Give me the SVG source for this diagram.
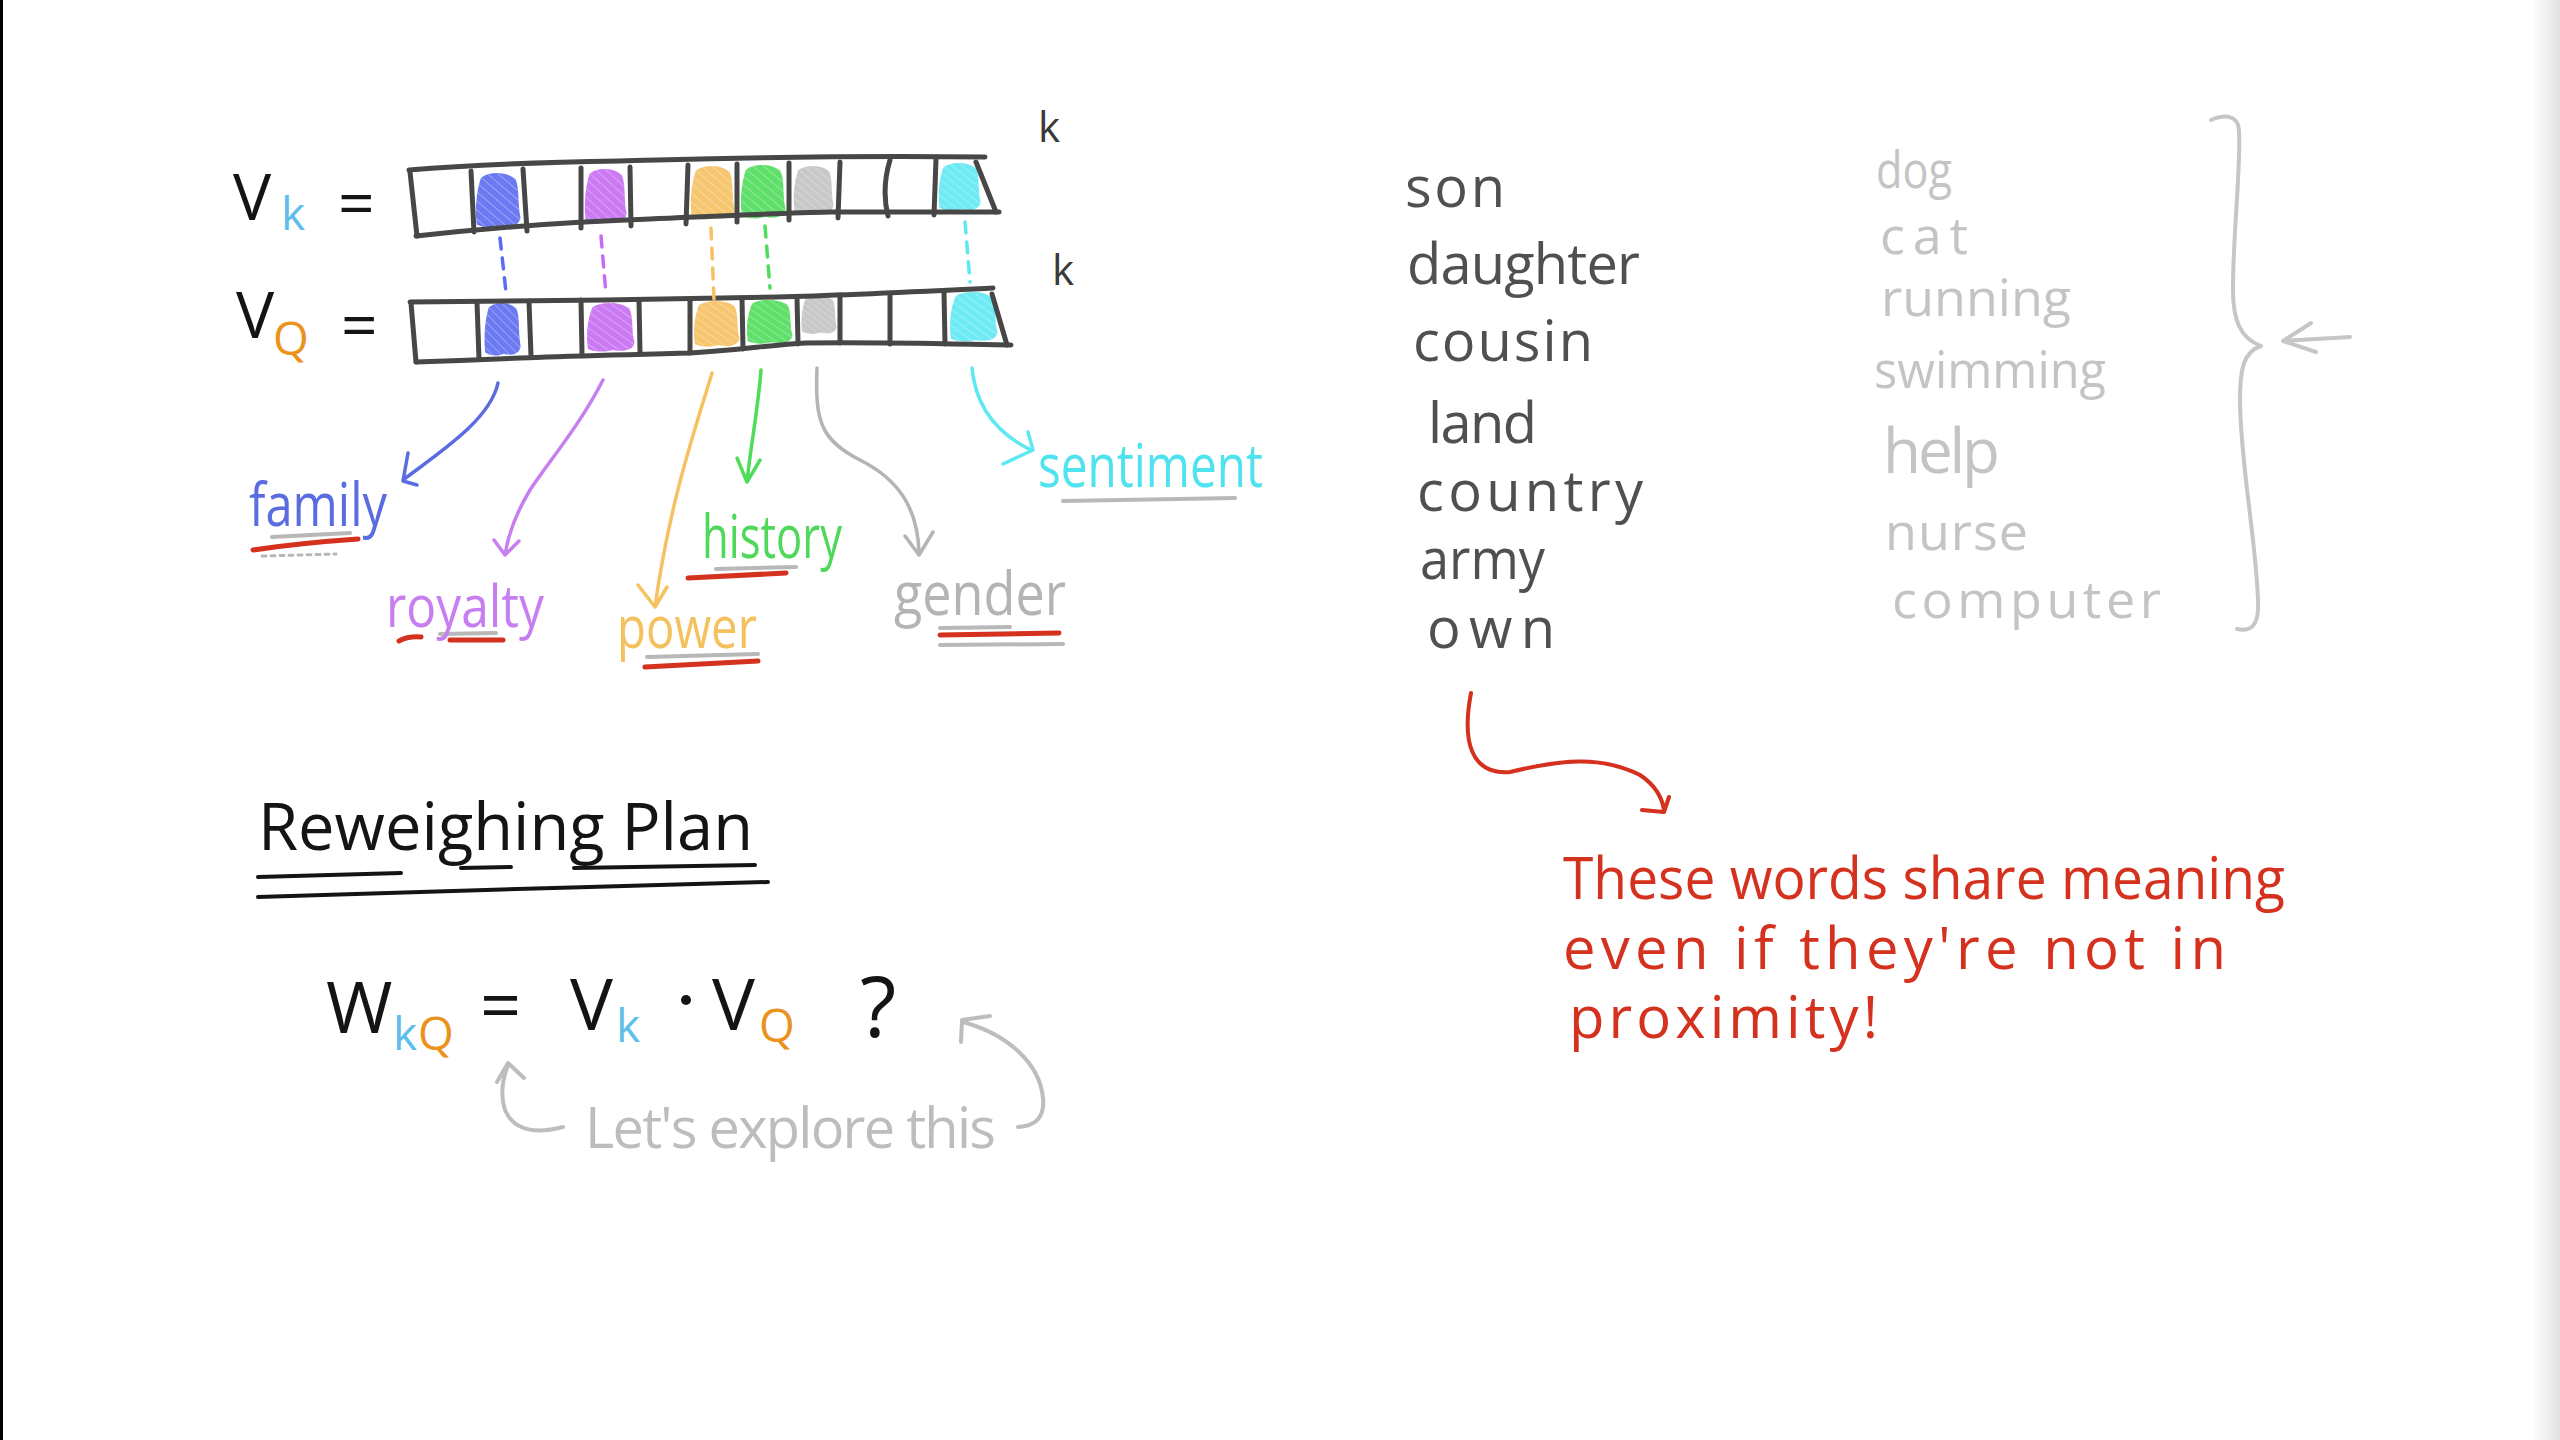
<svg xmlns="http://www.w3.org/2000/svg" xmlns:xlink="http://www.w3.org/1999/xlink" width="2560" height="1440" viewBox="0 0 2560 1440">
<style>
  text { font-family: "Open Sans", "Noto Sans", "DejaVu Sans", sans-serif; }
  .pen { fill: none; stroke-linecap: round; stroke-linejoin: round; }
  .box { fill: none; stroke: #474747; stroke-width: 5; stroke-linecap: round; stroke-linejoin: round; }
  .dash { fill: none; stroke-width: 3.5; stroke-dasharray: 11 9; stroke-linecap: round; }
  .blk { fill: #141414; }
  .mid { fill: #505050; font-size: 56px; }
  .lite { fill: #c4c4c4; font-size: 52px; }
  .red { fill: #d4311f; font-size: 58px; }
  .lbl { font-size: 60px; }
</style>
<defs>
  <path id="blob" d="M15,10 C35,-2 70,0 88,12 C98,30 92,55 99,80 C96,96 75,98 55,94 C40,99 20,98 6,92 C2,70 4,35 15,10 Z"/>
  <pattern id="hatch" width="13" height="13" patternUnits="userSpaceOnUse" patternTransform="rotate(-55)">
    <rect width="13" height="13" fill="none"/>
    <line x1="0" y1="0" x2="0" y2="13" stroke="#ffffff" stroke-opacity="0.4" stroke-width="3"/>
  </pattern>
  <linearGradient id="edge" x1="0" y1="0" x2="1" y2="0">
    <stop offset="0" stop-color="#ffffff"/>
    <stop offset="1" stop-color="#e2e2e2"/>
  </linearGradient>
</defs>

<rect x="0" y="0" width="2560" height="1440" fill="#ffffff"/>
<rect x="0" y="0" width="3" height="1440" fill="#000000"/>
<rect x="2532" y="0" width="28" height="1440" fill="url(#edge)"/>

<g id="vk-label">
  <text x="233" y="220" class="blk" font-size="64">V</text>
  <text x="281" y="230" fill="#5ec0ea" font-size="46">k</text>
  <text x="338" y="226" class="blk" font-size="64">=</text>
</g>
<g id="vq-label">
  <text x="236" y="338" class="blk" font-size="64">V</text>
  <text x="273" y="355" fill="#ea921c" font-size="46">Q</text>
  <text x="341" y="348" class="blk" font-size="64">=</text>
</g>
<g id="k-marks" fill="#3a3a3a">
  <text x="1038" y="142" font-size="42">k</text>
  <text x="1052" y="285" font-size="42">k</text>
</g>

<g id="vk-bar">
  <g opacity="0.9">
    <use href="#blob" transform="translate(474,172) scale(0.47,0.57)" fill="#5b6cf0"/>
    <use href="#blob" transform="translate(583,168) scale(0.44,0.57)" fill="#c66cf2"/>
    <use href="#blob" transform="translate(689,165) scale(0.46,0.56)" fill="#f6c261"/>
    <use href="#blob" transform="translate(739,164) scale(0.47,0.56)" fill="#4fdc5a"/>
    <use href="#blob" transform="translate(792,165) scale(0.42,0.5)" fill="#b4b4b4" opacity="0.8"/>
    <use href="#blob" transform="translate(937,162) scale(0.44,0.5)" fill="#5ee8f2"/>
  </g>
  <g fill="url(#hatch)">
    <use href="#blob" transform="translate(474,172) scale(0.47,0.57)"/>
    <use href="#blob" transform="translate(583,168) scale(0.44,0.57)"/>
    <use href="#blob" transform="translate(689,165) scale(0.46,0.56)"/>
    <use href="#blob" transform="translate(739,164) scale(0.47,0.56)"/>
    <use href="#blob" transform="translate(792,165) scale(0.42,0.5)"/>
    <use href="#blob" transform="translate(937,162) scale(0.44,0.5)"/>
  </g>
  <path class="box" d="M409,170 C480,164 560,162 620,161 C700,159 800,155 985,157"/>
  <path class="box" d="M416,236 C480,229 560,222 650,219 C720,216 780,213 830,212 L999,212"/>
  <path class="box" d="M410,172 L417,236"/>
  <path class="box" d="M976,162 L996,212"/>
  <path class="box" d="M471,171 L474,232 M523,169 L527,231 M581,168 L581,228 M630,167 L631,226 M688,165 L686,224 M737,164 L737,222 M789,163 L789,220 M840,162 L838,218 M890,160 C884,180 884,200 888,216 M936,159 L934,215"/>
</g>

<g id="vq-bar">
  <g opacity="0.9">
    <use href="#blob" transform="translate(483,302) scale(0.38,0.55)" fill="#5b6cf0"/>
    <use href="#blob" transform="translate(585,302) scale(0.5,0.51)" fill="#c66cf2"/>
    <use href="#blob" transform="translate(692,300) scale(0.48,0.48)" fill="#f6c261"/>
    <use href="#blob" transform="translate(745,299) scale(0.48,0.46)" fill="#4fdc5a"/>
    <use href="#blob" transform="translate(800,295) scale(0.37,0.4)" fill="#b4b4b4" opacity="0.8"/>
    <use href="#blob" transform="translate(948,291) scale(0.5,0.52)" fill="#5ee8f2"/>
  </g>
  <g fill="url(#hatch)">
    <use href="#blob" transform="translate(483,302) scale(0.38,0.55)"/>
    <use href="#blob" transform="translate(585,302) scale(0.5,0.51)"/>
    <use href="#blob" transform="translate(692,300) scale(0.48,0.48)"/>
    <use href="#blob" transform="translate(745,299) scale(0.48,0.46)"/>
    <use href="#blob" transform="translate(800,295) scale(0.37,0.4)"/>
    <use href="#blob" transform="translate(948,291) scale(0.5,0.52)"/>
  </g>
  <path class="box" d="M410,302 C500,301 560,300 604,300 C680,299 740,298 777,297 C850,295 930,291 993,288"/>
  <path class="box" d="M416,362 C480,360 520,358 546,357 C600,355 650,354 690,353 C740,350 770,345 806,343 C880,342 950,344 1011,345"/>
  <path class="box" d="M411,303 L416,362"/>
  <path class="box" d="M992,294 L1007,345"/>
  <path class="box" d="M477,302 L479,359 M529,301 L531,356 M581,300 L582,354 M639,300 L640,352 M690,299 L690,353 M742,298 L743,349 M797,297 L798,344 M840,295 L840,343 M890,294 L890,344 M944,291 L945,344"/>
</g>

<g id="connectors">
  <path class="dash" stroke="#5b6cf0" d="M500,238 L506,292"/>
  <path class="dash" stroke="#c66cf2" d="M601,236 L606,294"/>
  <path class="dash" stroke="#f6c261" d="M711,228 L714,300"/>
  <path class="dash" stroke="#4fdc5a" d="M765,226 L770,288"/>
  <path class="dash" stroke="#5ee8f2" d="M965,222 L970,282"/>

  <g class="pen" stroke-width="3.5">
    <path stroke="#5b6ce0" d="M498,383 C490,420 440,452 403,480 M408,453 L403,481 L417,485"/>
    <path stroke="#c77ef0" d="M603,380 C580,425 550,460 530,490 C515,515 508,535 505,555 M494,540 L505,555 L519,541"/>
    <path stroke="#f6c261" d="M712,373 C695,430 670,500 655,607 M638,585 L655,607 L667,587"/>
    <path stroke="#4fdc5a" d="M761,370 C758,410 750,450 747,482 M737,458 L747,482 L760,460"/>
    <path stroke="#b4b4b4" d="M817,368 C815,420 820,440 860,460 C900,480 918,510 919,553 M905,536 L919,555 L933,532"/>
    <path stroke="#5ee8f2" d="M972,368 C975,400 990,430 1031,450 M1028,432 L1033,450 L1003,464"/>
  </g>

  <g class="pen">
    <path stroke="#b8b8b8" stroke-width="4" d="M272,537 L350,533"/>
    <path stroke="#b8b8b8" stroke-width="3" stroke-dasharray="4 5" d="M262,556 L336,554"/>
    <path stroke="#d4311f" stroke-width="5" d="M253,550 Q300,543 358,539"/>
    <path stroke="#b8b8b8" stroke-width="4" d="M440,634 L496,633"/>
    <path stroke="#d4311f" stroke-width="5" d="M399,641 Q408,636 421,637 M450,640 L503,640"/>
    <path stroke="#b8b8b8" stroke-width="4" d="M647,657 L758,654"/>
    <path stroke="#d4311f" stroke-width="5" d="M645,667 L758,661"/>
    <path stroke="#b8b8b8" stroke-width="4" d="M716,569 L796,567"/>
    <path stroke="#d4311f" stroke-width="5" d="M688,578 L786,573"/>
    <path stroke="#b8b8b8" stroke-width="4" d="M940,628 L1010,627 M940,645 L1063,644"/>
    <path stroke="#d4311f" stroke-width="5" d="M940,635 L1059,633"/>
    <path stroke="#b8b8b8" stroke-width="4" d="M1063,501 L1235,498"/>
  </g>

  <path class="pen" stroke="#c6c6c6" stroke-width="4" d="M2211,120 C2225,114 2238,115 2239,130 C2241,170 2233,230 2233,290 C2233,320 2240,338 2261,346 C2243,352 2240,370 2240,400 C2240,460 2256,540 2258,600 C2259,620 2255,633 2237,629"/>
  <path class="pen" stroke="#c6c6c6" stroke-width="4" d="M2350,337 L2283,341 M2311,323 L2283,341 L2316,352"/>

  <path class="pen" stroke="#d4311f" stroke-width="4" d="M1471,693 C1462,740 1470,775 1510,772 C1560,760 1600,755 1640,775 C1655,785 1662,797 1664,810 M1669,797 L1664,812 L1642,810"/>

  <path class="pen" stroke="#bdbdbd" stroke-width="4" d="M563,1127 C540,1133 515,1133 505,1110 C500,1095 503,1078 508,1065 M497,1082 L508,1063 L524,1078"/>
  <path class="pen" stroke="#bdbdbd" stroke-width="4" d="M1018,1127 C1035,1126 1045,1118 1043,1098 C1040,1065 1010,1035 963,1022 M961,1042 L962,1020 L990,1016"/>
</g>

<g id="labels" class="lbl">
  <text id="lbl-family" x="249" y="526" fill="#5b6ce0" textLength="138" lengthAdjust="spacingAndGlyphs">family</text>
  <text id="lbl-royalty" x="386" y="627" fill="#c77ef0" font-size="58" textLength="158" lengthAdjust="spacingAndGlyphs">royalty</text>
  <text id="lbl-power" x="617" y="648" fill="#f5c15c" font-size="58" textLength="140" lengthAdjust="spacingAndGlyphs">power</text>
  <text id="lbl-history" x="702" y="558" fill="#4fd85a" textLength="140" lengthAdjust="spacingAndGlyphs">history</text>
  <text id="lbl-gender" x="894" y="615" fill="#b4b4b4" textLength="172" lengthAdjust="spacingAndGlyphs">gender</text>
  <text id="lbl-sentiment" x="1038" y="487" fill="#4fe3ef" textLength="225" lengthAdjust="spacingAndGlyphs">sentiment</text>
</g>

<g id="words-near" class="mid">
  <text x="1405" y="207" textLength="100">son</text>
  <text x="1407" y="284" textLength="233">daughter</text>
  <text x="1413" y="361" textLength="180">cousin</text>
  <text x="1428" y="443" textLength="109">land</text>
  <text x="1417" y="511" textLength="226">country</text>
  <text x="1420" y="579" textLength="125" lengthAdjust="spacingAndGlyphs">army</text>
  <text x="1427" y="648" textLength="128">own</text>
</g>

<g id="words-far" class="lite">
  <text x="1876" y="188" textLength="76" lengthAdjust="spacingAndGlyphs">dog</text>
  <text x="1880" y="254" textLength="88">cat</text>
  <text x="1881" y="316" textLength="190">running</text>
  <text x="1874" y="388" textLength="232" lengthAdjust="spacingAndGlyphs">swimming</text>
  <text x="1883" y="473" font-size="62" textLength="117">help</text>
  <text x="1885" y="550" textLength="143">nurse</text>
  <text x="1892" y="618" textLength="269">computer</text>
</g>

<g id="note" class="red">
  <text x="1563" y="899" textLength="722" lengthAdjust="spacingAndGlyphs">These words share meaning</text>
  <text x="1563" y="969" textLength="663">even if they're not in</text>
  <text x="1569" y="1038" textLength="309">proximity!</text>
</g>

<g id="plan">
  <text x="258" y="850" class="blk" font-size="66" textLength="495" lengthAdjust="spacingAndGlyphs">Reweighing  Plan</text>
  <path class="pen" stroke="#141414" stroke-width="4" d="M258,877 L401,873 M461,868 L511,867 M574,868 L755,865 M258,897 C400,893 600,886 768,882"/>
</g>

<g id="formula">
  <text x="326" y="1033" class="blk" font-size="72">W</text>
  <text x="393" y="1050" fill="#5ec0ea" font-size="46">k</text>
  <text x="418" y="1050" fill="#ea921c" font-size="46">Q</text>
  <text x="480" y="1031" class="blk" font-size="72">=</text>
  <text x="570" y="1030" class="blk" font-size="72">V</text>
  <text x="616" y="1042" fill="#5ec0ea" font-size="46">k</text>
  <circle cx="686" cy="1000" r="5" fill="#141414"/>
  <text x="712" y="1030" class="blk" font-size="72">V</text>
  <text x="759" y="1042" fill="#ea921c" font-size="46">Q</text>
  <text x="860" y="1037" class="blk" font-size="84">?</text>
</g>

<g id="explore">
  <text x="585" y="1148" fill="#bdbdbd" font-size="56" textLength="411">Let's explore this</text>
</g>
</svg>
